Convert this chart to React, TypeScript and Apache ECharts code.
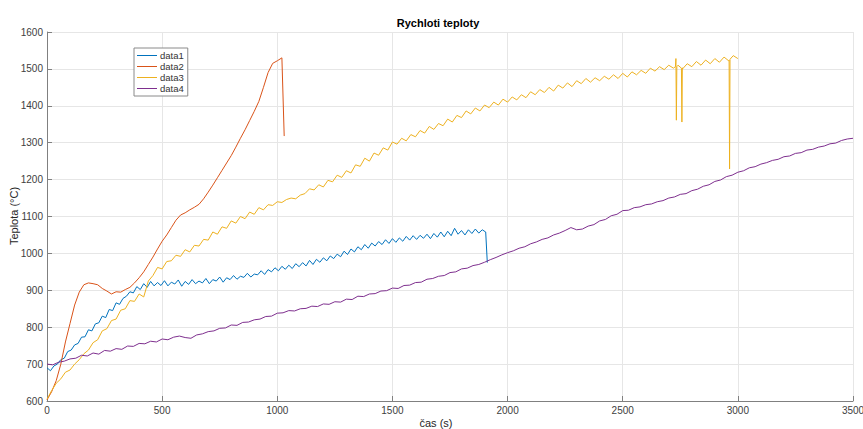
import React, { useEffect, useRef } from "react";
import * as echarts from "echarts";

const chartTitle = "Rychloti teploty";
const xAxisTitle = "čas (s)";
const yAxisTitle = "Teplota (°C)";
const seriesNames = ["data1", "data2", "data3", "data4"];
const seriesColors = ["#0072BD", "#D95319", "#EDB120", "#7E2F8E"];

// data1: sampled every 15 s from t = 0
const data1Step = 15;
const data1Values = [
  690, 682, 695, 700, 712, 716, 734, 738, 752, 756, 773, 774, 793, 790, 809, 812, 830, 826, 848, 845,
  866, 862, 878, 884, 896, 893, 910, 902, 918, 908, 924, 912, 921, 913, 926, 912, 922, 917, 928, 911,
  924, 916, 929, 918, 925, 920, 932, 918, 929, 925, 936, 922, 934, 929, 940, 930, 938, 935, 946, 936,
  944, 942, 953, 943, 956, 950, 961, 953, 965, 957, 968, 959, 972, 964, 975, 966, 981, 970, 984, 976,
  988, 980, 993, 986, 998, 991, 1006, 997, 1012, 1004, 1018, 1010, 1024, 1014, 1028, 1020, 1032, 1024, 1037, 1027,
  1040, 1030, 1042, 1033, 1046, 1036, 1048, 1038, 1049, 1041, 1052, 1040, 1054, 1044, 1058, 1045, 1060, 1048, 1068, 1052,
  1062, 1050, 1064, 1054, 1066, 1055, 1064, 1058,
];
const data1Tail = [[1912, 975]];

// data2: sampled every 20 s from t = 0
const data2Step = 20;
const data2Values = [
  603, 625, 655, 700, 760, 810, 860, 895, 915, 920, 918, 915, 905, 898, 890, 896, 895, 902, 908, 920,
  934, 950, 970, 990, 1012, 1033, 1050, 1070, 1090, 1104, 1110, 1118, 1125, 1133, 1148, 1166, 1185, 1205, 1225, 1245,
  1265, 1288, 1312, 1335, 1360, 1385, 1412, 1450, 1490, 1515, 1522, 1530,
];
const data2Tail = [[1030, 1318]];

// data3: sampled every 20 s from t = 0
const data3Step = 20;
const data3Values = [
  605, 628, 648, 660, 678, 684, 700, 712, 728, 738, 758, 766, 790, 796, 818, 822, 846, 850, 872, 870,
  890, 882, 925, 940, 962, 958, 978, 980, 995, 992, 1010, 1004, 1022, 1020, 1038, 1036, 1058, 1052, 1072, 1068,
  1088, 1082, 1100, 1094, 1112, 1106, 1124, 1118, 1132, 1130, 1140, 1138, 1146, 1150, 1148, 1158, 1162, 1175, 1172, 1186,
  1180, 1198, 1194, 1212, 1206, 1224, 1218, 1240, 1236, 1258, 1250, 1272, 1266, 1286, 1280, 1302, 1296, 1312, 1305, 1322,
  1316, 1333, 1326, 1344, 1336, 1352, 1346, 1364, 1356, 1374, 1368, 1386, 1378, 1394, 1386, 1402, 1395, 1410, 1402, 1418,
  1410, 1424, 1416, 1430, 1422, 1438, 1430, 1444, 1436, 1450, 1440, 1456, 1448, 1462, 1452, 1468, 1460, 1474, 1464, 1476,
  1468, 1480, 1472, 1484, 1474, 1488, 1478, 1492, 1484, 1496, 1488, 1502, 1494, 1506, 1498, 1510, 1502, 1510, 1500, 1514,
  1506, 1520, 1510, 1524, 1514, 1528, 1518, 1532, 1522, 1536, 1528,
];
const data3Spikes = [
  [2729, 1506], [2731, 1528], [2733, 1361], [2735, 1506],
  [2755, 1502], [2757, 1356], [2759, 1503],
  [2962, 1524], [2964, 1229], [2966, 1526],
];

// data4: sampled every 25 s from t = 0
const data4Step = 25;
const data4Values = [
  700, 698, 705, 708, 714, 716, 724, 722, 730, 727, 737, 735, 742, 740, 749, 748, 756, 755, 762, 760,
  768, 766, 773, 776, 772, 770, 779, 782, 788, 790, 797, 798, 806, 805, 813, 814, 820, 822, 829, 830,
  838, 839, 845, 844, 850, 851, 857, 856, 863, 862, 869, 868, 876, 875, 884, 883, 890, 891, 898, 899,
  906, 905, 913, 914, 921, 922, 930, 932, 938, 940, 948, 950, 958, 960, 967, 970, 976, 983, 989, 996,
  1002, 1007, 1014, 1018, 1026, 1031, 1038, 1042, 1050, 1055, 1062, 1070, 1064, 1066, 1074, 1078, 1088, 1092, 1102, 1106,
  1116, 1117, 1124, 1126, 1132, 1134, 1140, 1143, 1150, 1153, 1160, 1162, 1170, 1174, 1182, 1186, 1195, 1199, 1208, 1212,
  1220, 1224, 1232, 1235, 1242, 1246, 1252, 1255, 1262, 1264, 1271, 1273, 1280, 1282, 1288, 1291, 1297, 1299, 1306, 1310,
  1312,
];

const xTicks = { min: 0, max: 3500, interval: 500 };
const yTicks = { min: 600, max: 1600, interval: 100 };

function build(values: number[], step: number, extra: number[][]) {
  const pts = values.map((v, i) => [i * step, v]);
  return [...pts, ...extra].sort((a, b) => a[0] - b[0]);
}

const FONT = "'Liberation Sans', Arial, Helvetica, sans-serif";

export default function App() {
  const ref = useRef<HTMLDivElement>(null);
  useEffect(() => {
    if (!ref.current) return;
    const chart = echarts.init(ref.current, undefined, { renderer: "svg" });
    const seriesData = [
      build(data1Values, data1Step, data1Tail),
      build(data2Values, data2Step, data2Tail),
      build(data3Values, data3Step, data3Spikes),
      build(data4Values, data4Step, []),
    ];
    chart.setOption({
      animation: false,
      backgroundColor: "#ffffff",
      textStyle: { fontFamily: FONT },
      title: {
        text: chartTitle,
        left: 433,
        textAlign: "center",
        top: 12,
        textStyle: { fontSize: 11, fontWeight: "bold", color: "#000", fontFamily: FONT },
      },
      graphic: [
        {
          type: "text",
          x: 436,
          y: 423,
          style: {
            text: xAxisTitle,
            fontSize: 11,
            fill: "#262626",
            fontFamily: FONT,
            align: "center",
            verticalAlign: "middle",
          },
        },
        {
          type: "text",
          x: 14,
          y: 216,
          rotation: Math.PI / 2,
          style: {
            text: yAxisTitle,
            fontSize: 11,
            fill: "#262626",
            fontFamily: FONT,
            align: "center",
            verticalAlign: "middle",
          },
        },
      ],
      legend: {
        orient: "vertical",
        left: 134,
        top: 48,
        data: seriesNames,
        icon: "rect",
        itemWidth: 20,
        itemHeight: 1,
        itemGap: 0,
        padding: [2, 4, 2, 3],
        borderColor: "#8a8a8a",
        borderWidth: 1,
        backgroundColor: "#fff",
        textStyle: { fontSize: 9.5, lineHeight: 11, color: "#333", fontFamily: FONT, padding: [0, 0, 0, -2] },
      },
      grid: { left: 47, right: 10, top: 32, bottom: 28, containLabel: false, outerBoundsMode: "none" },
      xAxis: {
        type: "value",
        min: xTicks.min,
        max: xTicks.max,
        interval: xTicks.interval,
        axisLine: { show: true, lineStyle: { color: "#808080", width: 1 } },
        axisTick: { show: true, inside: true, length: 5, lineStyle: { color: "#808080" } },
        axisLabel: { fontSize: 10, color: "#404040", margin: 4, fontFamily: FONT, formatter: (v: number) => String(v) },
        splitLine: { show: true, lineStyle: { color: "#e6e6e6", width: 1 } },
      },
      yAxis: {
        type: "value",
        min: yTicks.min,
        max: yTicks.max,
        interval: yTicks.interval,
        axisLine: { show: true, lineStyle: { color: "#808080", width: 1 } },
        axisTick: { show: true, inside: true, length: 5, lineStyle: { color: "#808080" } },
        axisLabel: { fontSize: 10, color: "#404040", margin: 4, fontFamily: FONT, formatter: (v: number) => String(v) },
        splitLine: { show: true, lineStyle: { color: "#e6e6e6", width: 1 } },
      },
      series: seriesNames.map((name, i) => ({
        name,
        type: "line",
        data: seriesData[i],
        showSymbol: false,
        symbol: "none",
        lineStyle: { color: seriesColors[i], width: 1 },
        itemStyle: { color: seriesColors[i] },
        emphasis: { disabled: true },
      })),
    });
    return () => chart.dispose();
  }, []);
  return (
    <div
      ref={ref}
      style={{ position: "fixed", left: 0, top: 0, width: 863, height: 429, background: "#fff" }}
    />
  );
}
